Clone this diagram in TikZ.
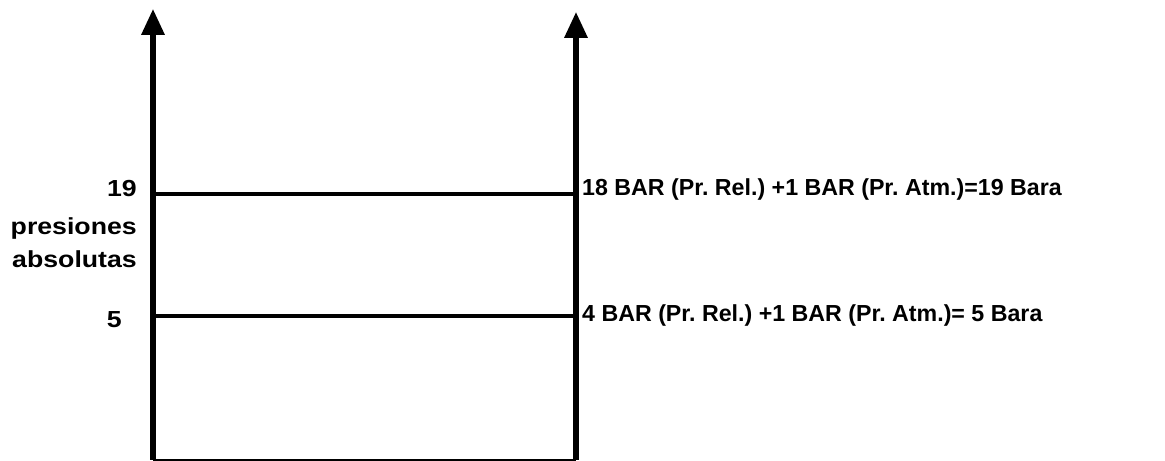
\documentclass[tikz,border=0pt]{standalone}
\usepackage{fontspec}
\setmainfont{Liberation Sans}
\newfontfamily\izqfont{Liberation Sans}[FakeStretch=1.15]
\frenchspacing
\usetikzlibrary{arrows.meta}
\begin{document}
\begin{tikzpicture}[x=0.03cm,y=-0.03cm,
    eje/.style={line width=4.3pt,-{Triangle[width=19pt,length=22pt]}},
    nivel/.style={line width=3.4pt},
    etiqueta/.style={font=\bfseries\fontsize{19.8}{24}\selectfont,inner sep=0pt},
    izquierda/.style={etiqueta,font=\izqfont\bfseries\fontsize{19.8}{24}\selectfont}]
    \useasboundingbox (0,0) rectangle (1165,461);
    % ejes
    \coordinate (izqB) at (153,460);
    \coordinate (izqA) at (153,9);
    \coordinate (derB) at (576,460);
    \coordinate (derA) at (576,12);
    \draw[eje] (izqB) -- (izqA);
    \draw[eje] (derB) -- (derA);
    \draw[line width=1.3pt] (izqB) -- (derB);
    % niveles
    \coordinate (i19) at (153,194);
    \coordinate (d19) at (576,194);
    \coordinate (i5) at (153,316);
    \coordinate (d5) at (576,316);
    \draw[nivel] (i19) -- (d19);
    \draw[nivel] (i5) -- (d5);
    % presiones absolutas
    \node[izquierda,anchor=base east] (n19) at (137,197) {19};
    \node[izquierda,anchor=base east] (presiones) at (137,235) {presiones};
    \node[izquierda,anchor=base east] (absolutas) at (137,268) {absolutas};
    \node[izquierda,anchor=base east] (n5) at (122,328) {5};
    % presiones relativas
    \node[etiqueta,anchor=base west] (txt19) at (582,196) {18 BAR (Pr. Rel.) +1 BAR (Pr. Atm.)=19 Bara};
    \node[etiqueta,anchor=base west] (txt5) at (582,322) {4 BAR (Pr. Rel.) +1 BAR (Pr. Atm.)= 5 Bara};
\end{tikzpicture}
\end{document}
